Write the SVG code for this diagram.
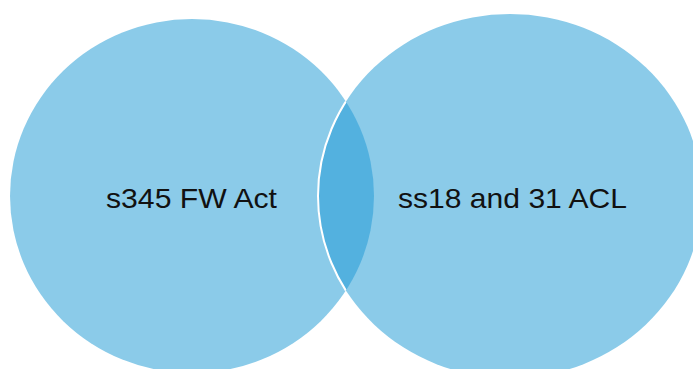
<svg xmlns="http://www.w3.org/2000/svg" width="693" height="369" viewBox="0 0 693 369">
  <style>
    .set { fill: #8BCBE9; }
    .overlap { fill: #53B1DF; }
    .edge { fill: none; stroke: #FFFFFF; stroke-width: 2; }
    .label { font-family: "Liberation Sans", Arial, sans-serif; font-size: 28.5px; fill: #111111; text-anchor: middle; }
  </style>
  <defs>
    <clipPath id="clip-left">
      <ellipse cx="192" cy="196" rx="182" ry="177"/>
    </clipPath>
  </defs>
  <g id="set-fw-act">
    <ellipse class="set" cx="192" cy="196" rx="182" ry="177"/>
  </g>
  <g id="set-acl">
    <ellipse class="set" cx="510" cy="196" rx="192" ry="182"/>
  </g>
  <g id="intersection">
    <ellipse class="overlap" cx="510" cy="196" rx="192" ry="182" clip-path="url(#clip-left)"/>
    <ellipse class="edge" cx="510" cy="196" rx="192" ry="182" clip-path="url(#clip-left)"/>
  </g>
  <g id="labels">
    <text class="label" x="191.5" y="208" textLength="171" lengthAdjust="spacingAndGlyphs">s345 FW Act</text>
    <text class="label" x="512.5" y="208" textLength="229" lengthAdjust="spacingAndGlyphs">ss18 and 31 ACL</text>
  </g>
</svg>
